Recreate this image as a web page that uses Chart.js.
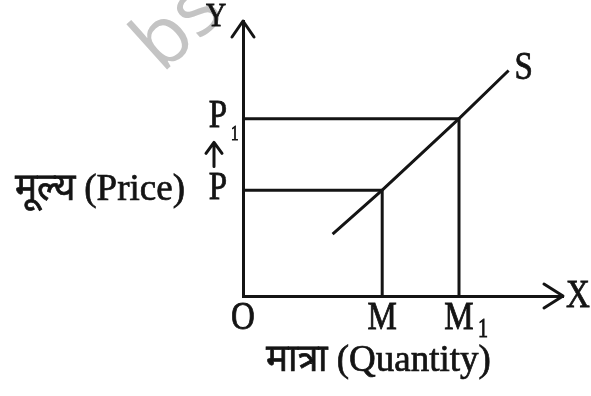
<!DOCTYPE html>
<html>
<head>
<meta charset="utf-8">
<script src="https://cdn.jsdelivr.net/npm/chart.js@4"></script>
<style>
  html, body { margin: 0; padding: 0; background: #ffffff; }
  #wrap { width: 591px; height: 396px; }
</style>
</head>
<body>
<div id="wrap"><canvas id="c" width="591" height="396"></canvas></div>
<script>
// ---- data ----
const supplyQuantity = [2.8, 4.35, 6.75, 8.3];
const supplyPrice    = [2.25, 3.85, 6.45, 8.2];
const quantityLevels = [4.35, 6.75];           // M, M1
const priceLevels    = [3.85, 6.45];           // P, P1
const quantityTickValues = [0, 4.35, 6.75];
const quantityTickLabels = ['O', 'M', 'M'];
const quantityTickSubs   = ['', '', '1'];
const priceTickValues = [3.85, 6.45];
const priceTickLabels = ['P', 'P'];
const priceTickSubs   = ['', '1'];
const xAxisTitle = 'मात्रा (Quantity)';
const yAxisTitle = 'मूल्य (Price)';
const xAxisName = 'X';
const yAxisName = 'Y';
const curveName = 'S';
const watermark = 'bs';

const INK = '#141414';
const SERIF = "'Liberation Serif', 'Times New Roman', serif";

function guide(i) {
  return {
    data: [
      { x: 0, y: priceLevels[i] },
      { x: quantityLevels[i], y: priceLevels[i] },
      { x: quantityLevels[i], y: 0 }
    ],
    borderColor: INK, borderWidth: 3, pointRadius: 0, showLine: true,
    tension: 0, fill: false
  };
}

function txt(ctx, s, x, y, size, sy, align) {
  ctx.save();
  ctx.translate(x, y);
  ctx.scale(1, sy);
  ctx.font = size + 'px ' + SERIF;
  ctx.fillStyle = INK;
  ctx.strokeStyle = INK;
  ctx.lineWidth = 0.7;
  ctx.textAlign = align || 'center';
  ctx.textBaseline = 'middle';
  ctx.fillText(s, 0, 0);
  ctx.strokeText(s, 0, 0);
  ctx.restore();
}

const decor = {
  id: 'decor',
  beforeDatasetsDraw(chart) {
    const ctx = chart.ctx;
    // watermark
    ctx.save();
    ctx.translate(162, 74);
    ctx.rotate(-42 * Math.PI / 180);
    ctx.font = "400 80px 'Open Sans', 'DejaVu Sans', sans-serif";
    ctx.fillStyle = '#c4c4c4';
    ctx.textBaseline = 'alphabetic';
    ctx.fillText(watermark, 0, 0);
    ctx.restore();
  },
  afterDraw(chart) {
    const ctx = chart.ctx;
    const xs = chart.scales.x, ys = chart.scales.y;
    const x0 = xs.getPixelForValue(0), y0 = ys.getPixelForValue(0);
    const xEnd = xs.getPixelForValue(xs.max), yEnd = ys.getPixelForValue(ys.max);
    ctx.save();
    ctx.strokeStyle = INK; ctx.lineWidth = 3; ctx.lineCap = 'round'; ctx.lineJoin = 'round';
    // y arrowhead
    ctx.beginPath();
    ctx.moveTo(x0 - 11, yEnd + 16); ctx.lineTo(x0, yEnd); ctx.lineTo(x0 + 11, yEnd + 16);
    ctx.stroke();
    // x arrowhead
    ctx.beginPath();
    ctx.moveTo(xEnd - 19, y0 - 12); ctx.lineTo(xEnd, y0); ctx.lineTo(xEnd - 19, y0 + 12);
    ctx.stroke();
    // small up arrow between P and P1
    const ya = ys.getPixelForValue((priceLevels[0] + priceLevels[1]) / 2);
    ctx.lineWidth = 3;
    ctx.beginPath();
    ctx.moveTo(x0 - 29, ya + 12); ctx.lineTo(x0 - 29, ya - 12);
    ctx.moveTo(x0 - 37, ya - 1); ctx.lineTo(x0 - 29, ya - 12); ctx.lineTo(x0 - 21, ya - 1);
    ctx.stroke();
    ctx.restore();

    const S = 33, SY = 1.22;
    // quantity ticks
    quantityTickValues.forEach((v, i) => {
      const px = xs.getPixelForValue(v);
      txt(ctx, quantityTickLabels[i], px, y0 + 22, S, SY);
      if (quantityTickSubs[i]) txt(ctx, quantityTickSubs[i], px + 19, y0 + 34, 20, 1.4, 'left');
    });
    // price ticks
    priceTickValues.forEach((v, i) => {
      const py = ys.getPixelForValue(v);
      txt(ctx, priceTickLabels[i], x0 - 25, py - 2, S, SY);
      if (priceTickSubs[i]) txt(ctx, priceTickSubs[i], x0 - 12, py + 16, 15, 1.4, 'left');
    });
    // axis names
    txt(ctx, xAxisName, xEnd + 15, y0, S, SY);
    txt(ctx, yAxisName, x0 - 27, yEnd - 4, 28, SY);
    // curve name
    const lastI = supplyQuantity.length - 1;
    txt(ctx, curveName, xs.getPixelForValue(supplyQuantity[lastI]) + 15,
        ys.getPixelForValue(supplyPrice[lastI]) - 2, S, SY);
    // titles
    txt(ctx, xAxisTitle, xs.getPixelForValue(quantityLevels[0]) - 4, y0 + 65, 37, 1.05);
    txt(ctx, yAxisTitle, 100, ys.getPixelForValue(priceLevels[0]), 37, 1.05);
  }
};

new Chart(document.getElementById('c'), {
  type: 'scatter',
  data: {
    datasets: [
      {
        label: curveName,
        data: supplyQuantity.map((q, i) => ({ x: q, y: supplyPrice[i] })),
        borderColor: INK, borderWidth: 3, pointRadius: 0, showLine: true,
        tension: 0, fill: false, borderCapStyle: 'butt'
      },
      guide(0),
      guide(1)
    ]
  },
  options: {
    responsive: false,
    animation: false,
    devicePixelRatio: 1,
    layout: { padding: { left: 243, right: 28, top: 21, bottom: 100 } },
    plugins: { legend: { display: false }, tooltip: { enabled: false } },
    scales: {
      x: {
        type: 'linear', min: 0, max: 10,
        grid: { display: false, drawTicks: false },
        ticks: { display: false },
        border: { display: true, color: INK, width: 3 },
        afterFit(s) { s.height = 0; }
      },
      y: {
        type: 'linear', min: 0, max: 10,
        grid: { display: false, drawTicks: false },
        ticks: { display: false },
        border: { display: true, color: INK, width: 3 },
        afterFit(s) { s.width = 0; }
      }
    }
  },
  plugins: [decor]
});
</script>
</body>
</html>
